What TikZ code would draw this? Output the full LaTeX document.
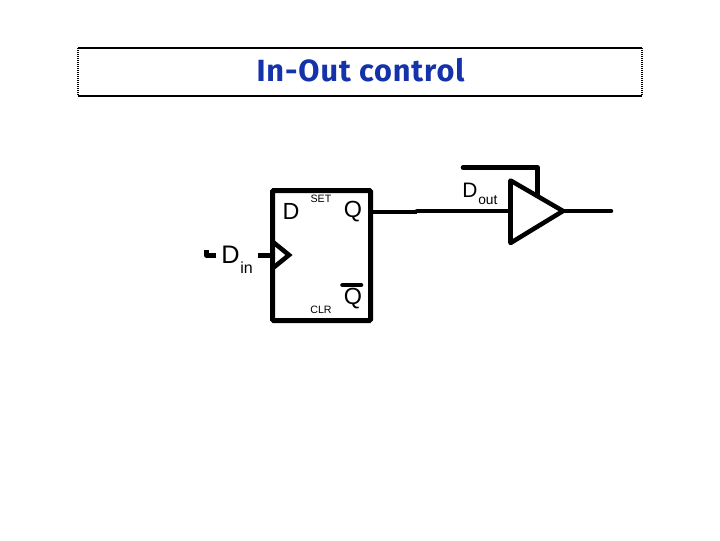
\documentclass[tikz,border=0pt]{standalone}
\usepackage{fontspec}
\setmainfont{Liberation Sans}
\newfontfamily\titlefont{Fira Sans}
\usetikzlibrary{calc}
\definecolor{titleblue}{RGB}{20,50,170}
\tikzset{
  wire/.style={draw=black,line width=3.4pt,line cap=round,line join=round},
  lab/.style={inner sep=0pt,anchor=center,text=black},
  big/.style={lab,font=\fontsize{17.5}{18}\selectfont},
  tiny/.style={lab,font=\fontsize{8}{8}\selectfont},
  titlerule/.style={draw=black,line width=0.8pt},
  titleside/.style={draw=black,line width=1.5pt,dash pattern=on 0.75pt off 0.75pt}
}
\begin{document}
\begin{tikzpicture}[x=0.75pt,y=-0.75pt]
\useasboundingbox (0,0) rectangle (720,540);
% title box
\coordinate (tl) at (78,48);
\coordinate (tr) at (642,48);
\coordinate (bl) at (78,96);
\coordinate (br) at (642,96);
\draw[titlerule] (tl) -- (tr);
\draw[titlerule] (bl) -- (br);
\draw[titleside] (tl) -- (bl);
\draw[titleside] (tr) -- (br);
\node[inner sep=0pt,text=titleblue,font=\titlefont\bfseries\fontsize{23}{24}\selectfont\addfontfeature{LetterSpace=3}] (title) at (360.5,70.5) {In-Out control};
% flip-flop
\node[draw=black,line width=3.75pt,minimum width=73.5pt,minimum height=97.5pt,inner sep=0pt,rounded corners=0.8pt] (ff) at (321.5,255.5) {};
\coordinate (clkT) at (273,242);
\coordinate (clkB) at (273,268);
\coordinate (clkTip) at (289,255);
\coordinate (clkIn) at (258,255.5);
\coordinate (clkEnd) at (ff.west |- clkIn);
\draw[wire,line cap=butt,line join=miter] (clkT) -- (clkTip) -- (clkB);
\draw[wire,line cap=butt] (clkIn) -- (clkEnd);
\node[big] (d) at (291,211.5) {D};
\node[big] (q) at (353,212) {Q};
\node[big] (qb) at (353,299) {Q};
\node[tiny] (set) at (321,199) {SET};
\node[tiny] (clr) at (321,310) {CLR};
\coordinate (barL) at (342.5,285);
\coordinate (barR) at (361,285);
\draw[wire] (barL) -- (barR);
% Din
\node[lab,anchor=base west,font=\fontsize{19}{19}\selectfont] (din) at (221,263) {D};
\node[lab,anchor=base west,font=\fontsize{12}{12}\selectfont] (dinsub) at (240,273) {in};
\coordinate (s1) at (206.5,250);
\coordinate (s2) at (206.5,255.5);
\coordinate (s3) at (216,255.5);
\draw[wire,line cap=butt] (s1) -- (s2) -- (s3);
% output wire and buffer
\coordinate (qout) at (ff.east |- 0,212);
\coordinate (j) at (417,212);
\coordinate (j2) at (417,211);
\coordinate (b1) at (510.5,180.5);
\coordinate (b2) at (563,211);
\coordinate (b3) at (510.5,243);
\coordinate (bin) at (510.5,211);
\coordinate (bout) at (611,211);
\draw[wire,line cap=butt] (qout) -- (j);
\draw[wire] (j2) -- (bin);
\draw[wire,fill=white] (b1) -- (b2) -- (b3) -- cycle;
\draw[wire] (b2) -- (bout);
\coordinate (e1) at (463,167.5);
\coordinate (e2) at (537.5,167.5);
\coordinate (e3) at (537.5,195);
\draw[wire] (e1) -- (e2) -- (e3);
\node[lab,anchor=base west,font=\fontsize{15.7}{16}\selectfont] (dout) at (462,197) {D};
\node[lab,anchor=base west,font=\fontsize{10.3}{11}\selectfont] (doutsub) at (478,204) {out};
\end{tikzpicture}
\end{document}
